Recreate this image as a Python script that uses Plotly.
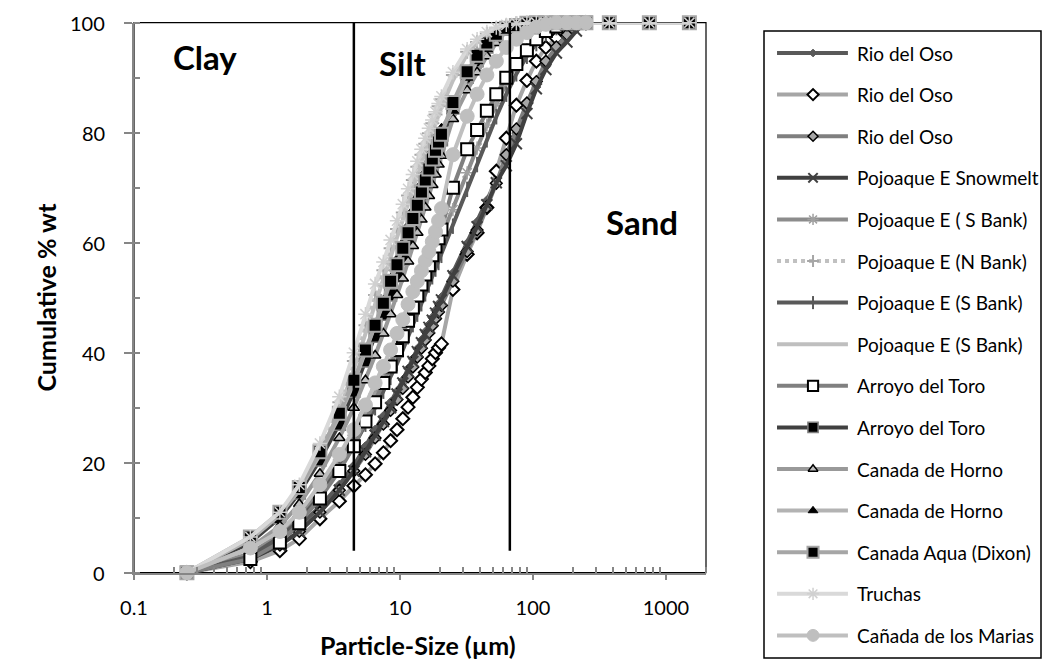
import math
import plotly.graph_objects as go

# ---------------- data ----------------
X_FULL = [0.25, 0.75, 1.25, 1.75, 2.5, 3.5, 4.5, 5.5, 6.5, 7.5, 8.5, 9.5, 10.5, 11.5, 12.5, 13.5, 14.5,
          15.5, 16.5, 17.5, 18.5, 19.5, 20.5, 25, 32, 38, 45, 53, 63, 75, 90, 106, 125, 150, 180, 212,
          250, 375, 750, 1500]
X_SHORT = [0.25, 0.75, 1.25, 1.75, 2.5, 3.5, 4.5, 5.5, 6.5, 7.5, 8.5, 9.5, 10.5, 11.5, 12.5, 13.5, 14.5,
           15.5, 16.5, 17.5, 18.5, 19.5, 20.5, 25, 32, 38, 45, 53, 63, 75, 90, 106, 125, 150, 180, 212,
           250]

rio_del_oso_1 = [0, 3, 6, 8.5, 12, 16, 19.5, 23, 26, 28.5, 31, 33, 35, 37.1, 38.9, 40.7, 42.3, 43.8, 45.1,
                 46.4, 47.7, 48.9, 50.1, 54.5, 59.9, 63.8, 67.7, 71.4, 75.5, 79.9, 84.4, 88.3, 92, 95, 97.3,
                 98.9, 100]
rio_del_oso_2 = [0, 2, 4, 6.2, 9.8, 13, 15.8, 17.8, 19.8, 21.8, 24, 26, 28, 30.1, 31.9, 33.7, 35.2, 36.4,
                 37.6, 38.9, 40.0, 40.9, 41.6, 51.5, 57.9, 61.8, 66.4, 73, 79, 85, 89.5, 93, 95.5, 97.2, 98.6,
                 99.6, 100]
rio_del_oso_3 = [0, 2.5, 5, 7.5, 11, 15, 18.5, 21.5, 24.5, 27, 29.5, 31.5, 33.5, 35.6, 37.4, 39.2, 40.8,
                 42.3, 43.6, 44.9, 46.2, 47.4, 48.6, 53, 58.4, 62.3, 66.4, 70.8, 76, 80.7, 85.4, 89.3, 93,
                 95.6, 97.8, 99.3, 100]
pojoaque_snowmelt = [0, 2.5, 5, 7.5, 11, 15, 18.5, 22, 25, 27.5, 30, 32.5, 34.5, 36.6, 38.4, 40.2, 41.8,
                     43.3, 44.6, 45.9, 47.2, 48.4, 49.6, 54, 59.3, 62.9, 66.9, 70.9, 74, 78, 83.5, 88, 91.5,
                     94.5, 96.5, 98.5, 100]
pojoaque_s_bank_a = [0, 3.5, 7, 10.5, 15, 20.5, 25, 29, 32.5, 35.5, 38.5, 41, 43.5, 45.9, 48.1, 50.0, 51.9,
                     53.7, 55.3, 56.8, 58.2, 59.4, 60.7, 66, 72.7, 77.2, 81.4, 85.3, 89, 92.3, 95.1, 97, 98.5,
                     99.2, 99.7, 100, 100]
pojoaque_n_bank = [0, 6, 10.5, 15, 22, 31, 38.5, 45, 50.5, 55, 59, 62.5, 65.5, 68.6, 71.4, 73.8, 76.0, 78.0,
                   79.9, 81.7, 83.3, 84.8, 86.1, 90.5, 94.7, 96.5, 98, 99, 99.5, 99.9, 100, 100, 100, 100,
                   100, 100, 100]
pojoaque_s_bank_b = [0, 3, 6.5, 9.5, 14, 19, 23, 27, 30, 33, 35.5, 38, 40.5, 42.9, 45.1, 47.0, 48.9, 50.7,
                     52.3, 53.8, 55.2, 56.4, 57.7, 63, 69.7, 74.2, 78.7, 82.9, 87, 90.7, 93.9, 96.2, 98,
                     99.1, 99.7, 100, 100]
pojoaque_s_bank_c = [0, 5.5, 10, 14.5, 21, 29.5, 37, 43.5, 49, 53.5, 57.5, 61, 64, 67.1, 69.9, 72.3, 74.5,
                     76.5, 78.4, 80.2, 81.8, 83.3, 84.6, 89.5, 94.3, 96.4, 98, 99, 99.5, 99.9, 100, 100, 100,
                     100, 100, 100, 100]
arroyo_toro_open = [0, 2.5, 5.5, 9, 13.5, 18.5, 23, 27.5, 31, 34.5, 37.5, 40.5, 43, 45.8, 48.2, 50.4, 52.4,
                    54.2, 55.9, 57.7, 59.3, 60.8, 62.4, 70, 77, 80.5, 84, 87, 90, 92.5, 95, 97, 98.5, 99.3,
                    99.8, 100, 100]
arroyo_toro_filled = [0, 5.5, 10, 14.5, 20.5, 27, 33, 38.5, 43, 47, 50.5, 54, 57, 60.1, 62.9, 65.3, 67.7,
                      69.9, 71.9, 73.7, 75.4, 77.2, 78.7, 84.5, 90.1, 93.1, 95.6, 97.5, 98.8, 99.4, 99.8, 100,
                      100, 100, 100, 100, 100]
horno_open = [0, 4.5, 8.5, 12.5, 18, 24.5, 30, 35, 39.5, 43.5, 47, 50.5, 53.5, 56.6, 59.4, 61.8, 64.2, 66.4,
              68.5, 70.5, 72.4, 74.2, 75.8, 82.5, 87.7, 91, 93.9, 96.3, 98.5, 99.4, 99.9, 100, 100, 100, 100,
              100, 100]
horno_filled = [0, 6, 10.5, 15, 21.5, 28.5, 34.5, 40, 45, 49.5, 53.5, 57, 60, 63.1, 65.9, 68.3, 70.7, 72.9,
                74.9, 76.7, 78.3, 79.8, 80.8, 84, 90, 93, 95.2, 98, 99.3, 99.8, 100, 100, 100, 100, 100, 100,
                100]
aqua_dixon = [0, 6.5, 11, 15.5, 22, 29, 35, 40.5, 45, 49, 53, 56, 59, 61.8, 64.4, 66.8, 69.2, 71.4, 73.4,
              75.2, 76.8, 78.3, 79.7, 85.5, 91.1, 94.1, 96.3, 97.9, 99, 99.5, 99.9, 100, 100, 100, 100, 100,
              100, 100, 100, 100]
truchas = [0, 6.5, 11, 16, 23.5, 32, 40, 47, 52.5, 56.5, 60.5, 64, 67, 69.8, 72.4, 74.8, 77.0, 79.0, 80.8,
           82.3, 83.8, 85.3, 86.6, 91, 95.2, 97, 98.3, 99.1, 99.6, 99.9, 100, 100, 100, 100, 100, 100, 100,
           100, 100, 100]
los_marias = [0, 4.5, 7.5, 11, 16, 21.5, 26, 30.5, 34.5, 37.5, 40.5, 43.5, 46, 48.8, 51.1, 53, 54.9, 56.7,
              58.4, 60.2, 62, 64, 66.2, 76, 83, 87, 90.5, 93, 95.5, 97, 98.2, 99.2, 99.7, 100, 100, 100, 100]

names = ["Rio del Oso", "Rio del Oso", "Rio del Oso", "Pojoaque E Snowmelt", "Pojoaque E ( S Bank)",
         "Pojoaque E (N Bank)", "Pojoaque E (S Bank)", "Pojoaque E (S Bank)", "Arroyo del Toro",
         "Arroyo del Toro", "Canada de Horno", "Canada de Horno", "Canada Aqua (Dixon)", "Truchas",
         "Cañada de los Marias"]
series_x = [X_SHORT] * 12 + [X_FULL, X_FULL, X_SHORT]
series_y = [rio_del_oso_1, rio_del_oso_2, rio_del_oso_3, pojoaque_snowmelt, pojoaque_s_bank_a,
            pojoaque_n_bank, pojoaque_s_bank_b, pojoaque_s_bank_c, arroyo_toro_open, arroyo_toro_filled,
            horno_open, horno_filled, aqua_dixon, truchas, los_marias]

X_TICKS = [0.1, 1, 10, 100, 1000]
X_TICK_TEXT = ["0.1", "1", "10", "100", "1000"]
Y_TICKS = [0, 20, 40, 60, 80, 100]

CLAY_SILT = 4.5
SILT_SAND = 67
BOUNDARY_Y = [4, 100]
SILT_SAND_Y = [4, 101]
zone_labels = ["Clay", "Silt", "Sand"]
zone_x = [0.34, 10.5, 660]
zone_y = [93.8, 92.7, 63.8]

# ---------------- styles ----------------
styles = [
    dict(lc="#595959", dash="solid", sym="diamond", ms=7, mc="#595959", mlc="#595959", mlw=1),
    dict(lc="#a6a6a6", dash="solid", sym="diamond", ms=10, mc="white", mlc="black", mlw=2),
    dict(lc="#7f7f7f", dash="solid", sym="diamond", ms=9, mc="#a6a6a6", mlc="black", mlw=1.5),
    dict(lc="#404040", dash="solid", sym="x-thin-open", ms=11, mc="#404040", mlc="#404040", mlw=2),
    dict(lc="#8c8c8c", dash="solid", sym="asterisk-open", ms=11, mc="#a0a0a0", mlc="#a0a0a0", mlw=1.5),
    dict(lc="#c0c0c0", dash="dot", sym="cross-thin-open", ms=10, mc="#a6a6a6", mlc="#a6a6a6", mlw=2),
    dict(lc="#595959", dash="solid", sym="line-ns-open", ms=11, mc="#595959", mlc="#595959", mlw=2),
    dict(lc="#bfbfbf", dash="solid", sym=None, ms=0, mc=None, mlc=None, mlw=0),
    dict(lc="#808080", dash="solid", sym="square", ms=12, mc="white", mlc="black", mlw=2),
    dict(lc="#404040", dash="solid", sym="square", ms=12, mc="black", mlc="#7f7f7f", mlw=1.5),
    dict(lc="#999999", dash="solid", sym="triangle-up", ms=10, mc="#bfbfbf", mlc="black", mlw=1.5),
    dict(lc="#b3b3b3", dash="solid", sym="triangle-up", ms=10, mc="black", mlc="black", mlw=1),
    dict(lc="#a6a6a6", dash="solid", sym="square", ms=13, mc="black", mlc="#a6a6a6", mlw=2),
    dict(lc="#d9d9d9", dash="solid", sym="asterisk-open", ms=12, mc="#d0d0d0", mlc="#d0d0d0", mlw=1.5),
    dict(lc="#bfbfbf", dash="solid", sym="circle", ms=14, mc="#bfbfbf", mlc="#bfbfbf", mlw=1),
]

FONT = "Lato, 'Open Sans', sans-serif"
W, H = 1043, 662
fig = go.Figure()


def marker_of(st, scale=1.0):
    return dict(symbol=st["sym"], size=st["ms"] * scale, color=st["mc"],
                line=dict(color=st["mlc"], width=st["mlw"]))


for i, (nm, xs, ys, st) in enumerate(zip(names, series_x, series_y, styles)):
    has_m = st["sym"] is not None
    fig.add_trace(go.Scatter(
        x=xs, y=ys, name=nm, mode="lines+markers" if has_m else "lines",
        marker=marker_of(st) if has_m else None,
        line=dict(color=st["lc"], width=4, dash=st["dash"]),
        cliponaxis=False, showlegend=False,
    ))

# boundary lines (clay/silt and silt/sand)
fig.add_trace(go.Scatter(x=[CLAY_SILT, CLAY_SILT], y=BOUNDARY_Y, mode="lines",
                         line=dict(color="black", width=2.5), showlegend=False, hoverinfo="skip"))
fig.add_trace(go.Scatter(x=[SILT_SAND, SILT_SAND], y=SILT_SAND_Y, mode="lines", cliponaxis=False,
                         line=dict(color="black", width=2.5), showlegend=False, hoverinfo="skip"))

# plot-area border (top/right visible in black)
fig.add_shape(type="rect", xref="x domain", yref="y domain", x0=0, x1=1, y0=0, y1=1,
              line=dict(color="black", width=1.2), layer="below")

for txt, lx, ly in zip(zone_labels, zone_x, zone_y):
    fig.add_annotation(x=math.log10(lx), y=ly, xref="x", yref="y", text=txt, showarrow=False,
                       font=dict(family=FONT, size=33, color="black", weight="bold"))

# y tick labels (placed a little further from the axis, as in the original)
for v in Y_TICKS:
    fig.add_annotation(x=107 / W, y=v, xref="paper", yref="y", text=str(v), xanchor="right",
                       yanchor="middle", showarrow=False,
                       font=dict(family=FONT, size=20, color="black"))

# axis titles
fig.add_annotation(x=418 / W, y=1 - 645 / H, xref="paper", yref="paper", text="Particle-Size (µm)",
                   xanchor="center", yanchor="middle", showarrow=False,
                   font=dict(family=FONT, size=25, color="black", weight="bold"))
fig.add_annotation(x=45 / W, y=1 - 297.5 / H, xref="paper", yref="paper", text="Cumulative % wt",
                   xanchor="center", yanchor="middle", textangle=-90, showarrow=False,
                   font=dict(family=FONT, size=25, color="black", weight="bold"))

# ---------------- legend (drawn in its own small axes) ----------------
LEG_LINE = [0.047, 0.303]
LEG_MARK = 0.177
LEG_TEXT = 0.329
for i, (nm, st) in enumerate(zip(names, styles)):
    fig.add_trace(go.Scatter(x=LEG_LINE, y=[i, i], xaxis="x2", yaxis="y2", mode="lines",
                             line=dict(color=st["lc"], width=4, dash=st["dash"]),
                             showlegend=False, hoverinfo="skip"))
    if st["sym"] is not None:
        fig.add_trace(go.Scatter(x=[LEG_MARK], y=[i], xaxis="x2", yaxis="y2", mode="markers",
                                 marker=marker_of(st, 0.85), showlegend=False, hoverinfo="skip"))
    fig.add_annotation(x=LEG_TEXT, y=i, xref="x2", yref="y2", text=nm, xanchor="left",
                       showarrow=False, font=dict(family=FONT, size=19, color="black"))

fig.add_shape(type="rect", xref="x2 domain", yref="y2 domain", x0=0, x1=1, y0=0, y1=1,
              line=dict(color="black", width=1.5), layer="below")

minor_x = [m * 10 ** d for d in range(-1, 4) for m in range(2, 10) if m * 10 ** d <= 2000]
AX = "#868686"
fig.update_layout(
    xaxis=dict(domain=[134 / W, 706 / W], anchor="y", type="log", range=[-1, math.log10(2000)],
               tickvals=X_TICKS, ticktext=X_TICK_TEXT,
               ticks="outside", ticklen=6, tickwidth=1.5, tickcolor=AX,
               showline=True, linecolor=AX, linewidth=1.5, showgrid=False, zeroline=False,
               minor=dict(tickvals=minor_x, ticks="inside", ticklen=6, tickwidth=1.5, tickcolor=AX,
                          showgrid=False),
               tickfont=dict(family=FONT, size=20, color="black"), ticklabelstandoff=11,
               automargin=False),
    yaxis=dict(domain=[(H - 572.7) / H, (H - 22.7) / H], anchor="x", range=[0, 100],
               tickvals=Y_TICKS, showticklabels=False,
               ticks="outside", ticklen=8, tickwidth=1.5, tickcolor=AX,
               showline=True, linecolor=AX, linewidth=1.5, showgrid=False, zeroline=False,
               minor=dict(dtick=10, ticks="inside", ticklen=6, tickwidth=1.5, tickcolor=AX,
                          showgrid=False),
               automargin=False),
    xaxis2=dict(domain=[764 / W, 1041 / W], anchor="y2", range=[0, 1], visible=False,
                fixedrange=True),
    yaxis2=dict(domain=[(H - 658) / H, (H - 31) / H], anchor="x2",
                range=[(658 - 53) / 41.6, (31 - 53) / 41.6], visible=False, fixedrange=True),
    width=W, height=H, autosize=False,
    margin=dict(l=0, r=0, t=0, b=0),
    paper_bgcolor="white", plot_bgcolor="white",
    showlegend=False,
)

fig.write_html("out.html")
